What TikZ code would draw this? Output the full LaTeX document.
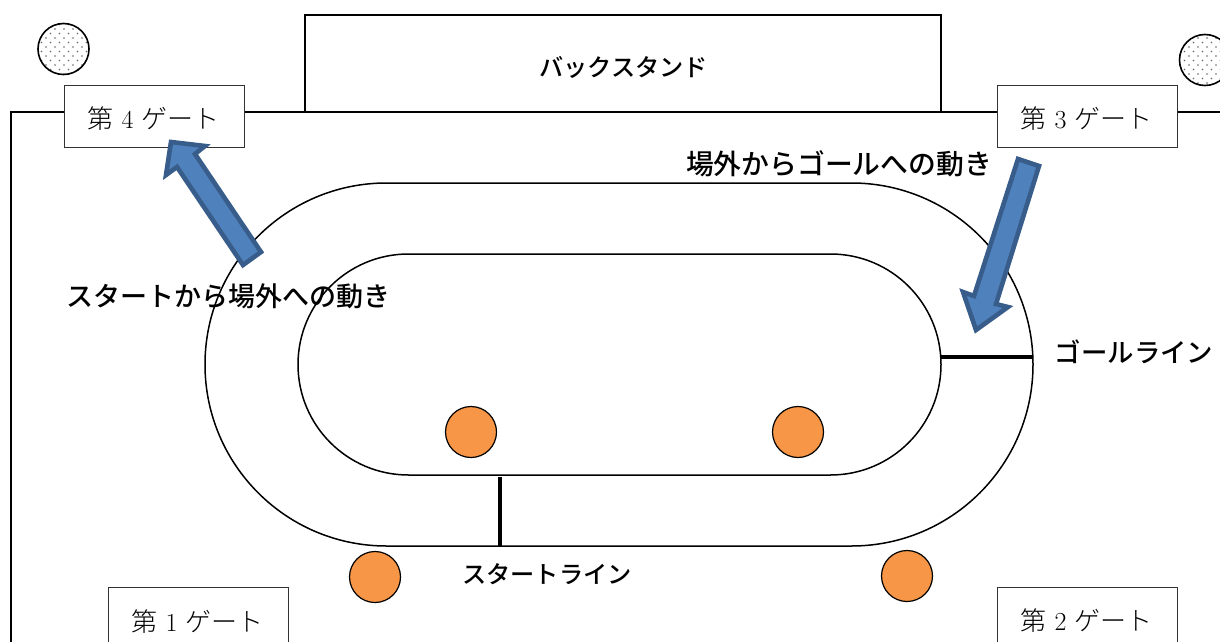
\documentclass[tikz,border=0pt]{standalone}
\usepackage{fontspec}
\newfontfamily\cjksans{Noto Sans CJK JP Medium}
\newfontfamily\cjklight{Noto Sans CJK JP Light}
\newfontfamily\lmdigit{Latin Modern Roman}
\usetikzlibrary{patterns}
\pgfdeclarepatternformonly{spotdots}{\pgfqpoint{-1pt}{-1pt}}{\pgfqpoint{9pt}{9pt}}{\pgfqpoint{9pt}{9pt}}{%
  \pgfpathcircle{\pgfqpoint{1pt}{1pt}}{0.95pt}
  \pgfpathcircle{\pgfqpoint{5.5pt}{5.5pt}}{0.95pt}
  \pgfusepath{fill}}
\definecolor{arrowfill}{HTML}{4F81BD}
\definecolor{arrowline}{HTML}{385D8A}
\definecolor{orangedot}{HTML}{F79646}
\tikzset{
  gatebox/.style={draw=black!80,line width=1pt,fill=white,minimum width=180pt,minimum height=62pt,inner sep=0pt,outer sep=0pt},
  gatelow/.style={draw=black!80,line width=1pt,fill=white,minimum width=180pt,minimum height=72pt,inner sep=0pt,outer sep=0pt},
  gatetext/.style={inner sep=0pt,font=\cjklight\fontsize{26}{28}\selectfont},
  labeltext/.style={inner sep=0pt,font=\cjksans\fontsize{27}{30}\selectfont},
  track/.style={draw=black,line width=1.5pt},
  wall/.style={draw=black,line width=1.5pt},
  bigarrow/.style={draw=arrowline,fill=arrowfill,line width=4.6pt,miter limit=10},
  orangespot/.style={circle,draw=black,fill=orangedot,line width=1.2pt,minimum size=51pt,inner sep=0pt},
  dotspot/.style={circle,draw=black,line width=1.6pt,pattern=spotdots,pattern color=black!60,minimum size=51pt,inner sep=0pt},
  thickbar/.style={draw=black,line width=4.4pt}
}
\newcommand{\gatelabel}[1]{第\hspace{8pt}{\lmdigit #1}\hspace{8pt}ゲート}
\begin{document}
\begin{tikzpicture}[x=1pt,y=-1pt]
\useasboundingbox (0,0) rectangle (1220,642);
\clip (0,0) rectangle (1220,642);
% walls
\draw[wall] (11,642) -- (11,112) -- (1220,112);
\node[draw=black,line width=1.5pt,fill=white,minimum width=636pt,minimum height=97pt,inner sep=0pt,outer sep=0pt] (back) at (623,63.5) {};
\node[labeltext,font=\cjksans\fontsize{24.2}{28}\selectfont] (backt) at (623.5,67) {バックスタンド};
% tracks
\draw[track] (386.5,183) -- (851.5,183) arc[start angle=-90,end angle=90,radius=181.5] -- (386.5,546) arc[start angle=90,end angle=270,radius=181.5] -- cycle;
\draw[track] (408.5,254) -- (830.5,254) arc[start angle=-90,end angle=90,radius=110.5] -- (408.5,475) arc[start angle=90,end angle=270,radius=110.5] -- cycle;
\coordinate (gl) at (941,357); \coordinate (gr) at (1033,357);
\coordinate (st) at (500,477); \coordinate (sb) at (500,546);
\draw[thickbar] (gl) -- (gr);
\draw[thickbar] (st) -- (sb);
% gates
\node[gatebox] (g4) at (154,116) {};
\node[gatetext] (g4t) at (153.5,119) {\gatelabel{4}};
\node[gatebox] (g3) at (1087,116) {};
\node[gatetext] (g3t) at (1086.5,119) {\gatelabel{3}};
\node[gatelow] (g1) at (198,623) {};
\node[gatetext] (g1t) at (197.5,622) {\gatelabel{1}};
\node[gatelow] (g2) at (1087,623) {};
\node[gatetext] (g2t) at (1086.5,621) {\gatelabel{2}};
% dotted spots
\node[dotspot] (d1) at (63.5,49) {};
\node[dotspot] (d2) at (1205,60) {};
% orange spots
\node[orangespot] (o1) at (471,432) {};
\node[orangespot] (o2) at (798,432) {};
\node[orangespot] (o3) at (375,577) {};
\node[orangespot] (o4) at (907,576) {};
% arrows
\draw[bigarrow] (171,142) -- (166,175) -- (177,167) -- (243,265) -- (261,252) -- (195,154) -- (205,146) -- cycle;
\draw[bigarrow] (1018,159) -- (1039,166) -- (996,304) -- (1008,307) -- (976,330) -- (963,292) -- (974,296) -- cycle;
% labels
\node[labeltext,font=\cjksans\fontsize{27.8}{30}\selectfont] (l1) at (839,164) {場外からゴールへの動き};
\node[labeltext] (l2) at (228,296) {スタートから場外への動き};
\node[labeltext,font=\cjksans\fontsize{26.4}{30}\selectfont] (l3) at (1134,352) {ゴールライン};
\node[labeltext,font=\cjksans\fontsize{24.2}{30}\selectfont] (l4) at (547,574) {スタートライン};
\end{tikzpicture}
\end{document}
